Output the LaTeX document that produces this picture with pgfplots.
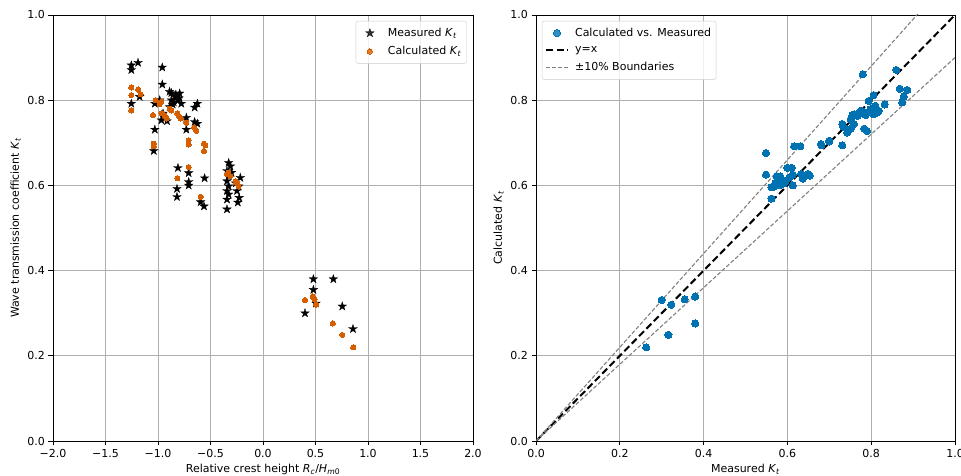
\documentclass[border=0pt]{standalone}
\usepackage{fontspec}
\setmainfont{DejaVu Sans}
\usepackage{pgfplots}
\pgfplotsset{compat=1.18}

\definecolor{vermil}{HTML}{D55E00}
\definecolor{cbblue}{HTML}{0072B2}
\definecolor{gridgray}{HTML}{B0B0B0}
\definecolor{dgray}{HTML}{808080}

\pgfdeclareplotmark{fstar}{%
 \pgfpathmoveto{\pgfpointpolar{90}{\pgfplotmarksize}}%
 \pgfpathlineto{\pgfpointpolar{126}{0.382\pgfplotmarksize}}%
 \pgfpathlineto{\pgfpointpolar{162}{\pgfplotmarksize}}%
 \pgfpathlineto{\pgfpointpolar{198}{0.382\pgfplotmarksize}}%
 \pgfpathlineto{\pgfpointpolar{234}{\pgfplotmarksize}}%
 \pgfpathlineto{\pgfpointpolar{270}{0.382\pgfplotmarksize}}%
 \pgfpathlineto{\pgfpointpolar{306}{\pgfplotmarksize}}%
 \pgfpathlineto{\pgfpointpolar{342}{0.382\pgfplotmarksize}}%
 \pgfpathlineto{\pgfpointpolar{18}{\pgfplotmarksize}}%
 \pgfpathlineto{\pgfpointpolar{54}{0.382\pgfplotmarksize}}%
 \pgfpathclose
 \pgfusepathqfillstroke
}

\newcommand{\Kt}{\textit{K}\textsubscript{\textit{t}}}

\pgfplotsset{
  mpl/.style={
    scale only axis,
    height=426pt,
    axis line style={line width=0.8pt, black},
    tick pos=left,
    tick align=outside,
    major tick length=4.5pt,
    every tick/.style={line width=0.8pt, black},
    grid=major,
    grid style={line width=0.8pt, gridgray},
    font=\fontsize{11}{13}\selectfont,
    tick label style={font=\fontsize{11}{13}\selectfont},
    /pgf/number format/assume math mode=true,
    /pgf/number format/fixed,
    /pgf/number format/fixed zerofill,
    /pgf/number format/precision=1,
    ymin=0, ymax=1,
    ytick={0,0.2,0.4,0.6,0.8,1.0},
    legend cell align=left,
    legend style={draw=black!20, rounded corners=2pt, fill=white, fill opacity=0.8, text opacity=1,
      font=\fontsize{11}{13}\selectfont, inner xsep=3pt, inner ysep=5pt, row sep=4.5pt},
  },
  mklegend/.style={legend image code/.code={\path[draw=none, fill=none] (0pt,-2pt) rectangle (27pt,2pt); \draw[##1] plot coordinates {(11pt,0pt)};}},
  lnlegend/.style={legend image code/.code={\path[draw=none, fill=none] (0pt,-2pt) rectangle (27pt,2pt); \draw[##1] (0pt,0pt) -- (22pt,0pt);}},
}

\pgfplotstableread{
x m
-1.254 0.882
-1.19 0.888
-1.254 0.871
-0.959 0.877
-0.959 0.837
-1.254 0.792
-1.175 0.808
-0.873 0.817
-0.794 0.816
-0.84 0.808
-0.81 0.800
-0.873 0.800
-0.778 0.792
-0.889 0.784
-1.03 0.792
-0.984 0.800
-0.625 0.792
-0.651 0.783
-0.952 0.769
-0.968 0.753
-0.914 0.751
-0.73 0.759
-0.651 0.749
-0.625 0.745
-0.73 0.731
-1.03 0.731
-1.04 0.681
-0.89 0.820
-0.83 0.813
-0.85 0.795
-0.80 0.805
-0.86 0.790
-0.81 0.641
-0.708 0.629
-0.708 0.608
-0.708 0.600
-0.819 0.592
-0.819 0.573
-0.556 0.617
-0.594 0.561
-0.562 0.551
-0.327 0.653
-0.310 0.645
-0.343 0.634
-0.327 0.622
-0.343 0.610
-0.327 0.598
-0.343 0.587
-0.327 0.579
-0.343 0.567
-0.343 0.544
-0.216 0.618
-0.232 0.598
-0.248 0.587
-0.227 0.571
-0.240 0.560
-0.300 0.630
-0.260 0.605
0.40 0.300
0.48 0.380
0.48 0.355
0.505 0.323
0.67 0.380
0.755 0.316
0.857 0.263
}\measured

\pgfplotstableread{
x c
-1.254 0.830
-1.254 0.812
-1.19 0.825
-1.165 0.814
-1.254 0.776
-1.022 0.800
-0.968 0.796
-0.984 0.791
-1.048 0.765
-0.968 0.769
-0.937 0.765
-0.92 0.757
-0.889 0.780
-0.873 0.776
-0.816 0.769
-0.800 0.762
-0.784 0.757
-0.73 0.747
-0.657 0.736
-0.635 0.728
-0.708 0.706
-0.708 0.696
-0.562 0.698
-0.549 0.694
-0.562 0.681
-1.04 0.698
-1.04 0.692
-0.708 0.643
-0.816 0.617
-0.594 0.573
-0.343 0.626
-0.31 0.622
-0.26 0.610
-0.248 0.606
-0.232 0.598
-0.33 0.630
0.40 0.331
0.475 0.339
0.49 0.333
0.506 0.320
0.666 0.276
0.755 0.249
0.86 0.220
}\calculated

\pgfplotstableread{
m c
0.263 0.220
0.300 0.331
0.316 0.249
0.323 0.320
0.355 0.333
0.380 0.339
0.380 0.276
0.549 0.676
0.616 0.692
0.631 0.692
0.681 0.694
0.700 0.703
0.549 0.625
0.600 0.641
0.610 0.641
0.575 0.621
0.583 0.621
0.587 0.613
0.579 0.609
0.571 0.605
0.591 0.605
0.583 0.601
0.568 0.597
0.613 0.625
0.633 0.627
0.649 0.627
0.653 0.623
0.637 0.616
0.613 0.600
0.562 0.596
0.562 0.569
0.596 0.610
0.604 0.618
0.780 0.861
0.860 0.871
0.868 0.827
0.886 0.824
0.878 0.809
0.874 0.795
0.806 0.812
0.832 0.790
0.794 0.798
0.810 0.787
0.814 0.771
0.802 0.775
0.790 0.771
0.783 0.771
0.775 0.775
0.767 0.763
0.755 0.765
0.751 0.755
0.798 0.779
0.787 0.765
0.806 0.767
0.818 0.775
0.759 0.767
0.771 0.769
0.731 0.744
0.743 0.724
0.751 0.733
0.759 0.744
0.783 0.733
0.790 0.728
0.700 0.705
0.680 0.697
0.731 0.694
0.733 0.738
0.745 0.730
}\scatterdata

\begin{document}
\begin{tikzpicture}
\begin{axis}[mpl,
  at={(53pt,35pt)}, anchor=south west,
  width=420pt,
  xmin=-2, xmax=2,
  xtick={-2,-1.5,-1,-0.5,0,0.5,1,1.5,2},
  xticklabels={−2.0,−1.5,−1.0,−0.5,0.0,0.5,1.0,1.5,2.0},
  xlabel={Relative crest height \textit{R}\textsubscript{\textit{c}}/\textit{H}\textsubscript{\textit{m}0}},
  ylabel={Wave transmission coefficient \Kt},
  legend style={at={(0.985,0.986)}, anchor=north east},
]
\addplot[only marks, mark=fstar, mark size=4.5pt, draw=black, fill=black, line width=0.3pt, mklegend]
  table[x=x, y=m] {\measured};
\addlegendentry{Measured \Kt}
\addplot[only marks, mark=*, mark size=2.6pt, draw=vermil, fill=vermil, line width=0pt, mklegend]
  table[x=x, y=c] {\calculated};
\addlegendentry{Calculated \Kt}
\end{axis}

\begin{axis}[mpl,
  at={(536pt,35pt)}, anchor=south west,
  width=419pt,
  xmin=0, xmax=1,
  xtick={0,0.2,0.4,0.6,0.8,1.0},
  xlabel={Measured \Kt},
  ylabel={Calculated \Kt},
  legend style={at={(0.014,0.986)}, anchor=north west},
]
\addplot[only marks, mark=*, mark size=3.6pt, draw=cbblue, fill=cbblue, line width=0pt, mklegend]
  table[x=m, y=c] {\scatterdata};
\addlegendentry{Calculated vs. Measured}
\addplot[black, line width=2pt, dash pattern=on 7pt off 3.5pt, lnlegend]
  coordinates {(0,0) (1,1)};
\addlegendentry{y=x}
\addplot[dgray, line width=1.1pt, dash pattern=on 4pt off 2pt, lnlegend]
  coordinates {(0,0) (1,1.1)};
\addlegendentry{±10\% Boundaries}
\addplot[dgray, line width=1.1pt, dash pattern=on 4pt off 2pt, forget plot]
  coordinates {(0,0) (1,0.9)};
\end{axis}
\pgfresetboundingbox
\useasboundingbox (0,0) rectangle (961pt,476pt);
\end{tikzpicture}
\end{document}
